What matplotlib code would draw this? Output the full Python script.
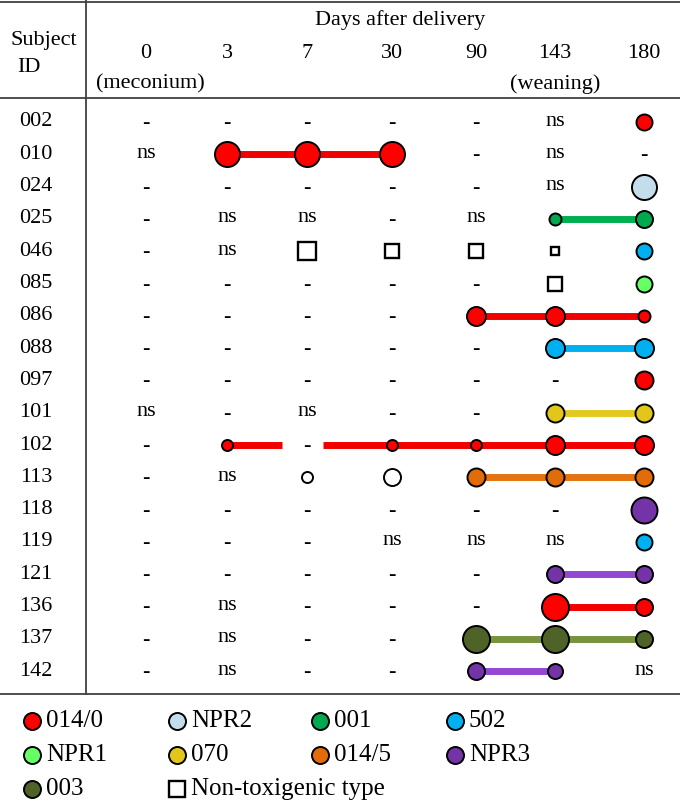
import matplotlib
matplotlib.use("Agg")
import matplotlib.pyplot as plt

# ---------------- data ----------------
days = ["0", "3", "7", "30", "90", "143", "180"]
day_notes = ["(meconium)", "", "", "", "", "(weaning)", ""]
subjects = ["002", "010", "024", "025", "046", "085", "086", "088", "097",
            "101", "102", "113", "118", "119", "121", "136", "137", "142"]

# cell content per subject and day: "-" none, "ns" no sample, else a type
cell_type = [
    ["-", "-", "-", "-", "-", "ns", "014/0"],
    ["ns", "014/0", "014/0", "014/0", "-", "ns", "-"],
    ["-", "-", "-", "-", "-", "ns", "NPR2"],
    ["-", "ns", "ns", "-", "ns", "001", "001"],
    ["-", "ns", "NT", "NT", "NT", "NT", "502"],
    ["-", "-", "-", "-", "-", "NT", "NPR1"],
    ["-", "-", "-", "-", "014/0", "014/0", "014/0"],
    ["-", "-", "-", "-", "-", "502", "502"],
    ["-", "-", "-", "-", "-", "-", "014/0"],
    ["ns", "-", "ns", "-", "-", "070", "070"],
    ["-", "014/0", "-", "014/0", "014/0", "014/0", "014/0"],
    ["-", "ns", "open", "open", "014/5", "014/5", "014/5"],
    ["-", "-", "-", "-", "-", "-", "NPR3"],
    ["-", "-", "-", "ns", "ns", "ns", "502"],
    ["-", "-", "-", "-", "-", "NPR3", "NPR3"],
    ["-", "ns", "-", "-", "-", "014/0", "014/0"],
    ["-", "ns", "-", "-", "003", "003", "003"],
    ["-", "ns", "-", "-", "NPR3", "NPR3", "ns"],
]
# marker diameter (px), 0 where no marker
cell_size = [
    [0, 0, 0, 0, 0, 0, 17],
    [0, 26, 26, 26, 0, 0, 0],
    [0, 0, 0, 0, 0, 0, 26],
    [0, 0, 0, 0, 0, 13, 18],
    [0, 0, 23, 17, 17, 11, 17],
    [0, 0, 0, 0, 0, 18, 17],
    [0, 0, 0, 0, 20, 20, 13],
    [0, 0, 0, 0, 0, 20, 20],
    [0, 0, 0, 0, 0, 0, 19],
    [0, 0, 0, 0, 0, 19, 19],
    [0, 12, 0, 12, 12, 20, 20],
    [0, 0, 12, 18, 19, 19, 19],
    [0, 0, 0, 0, 0, 0, 27],
    [0, 0, 0, 0, 0, 0, 17],
    [0, 0, 0, 0, 0, 18, 18],
    [0, 0, 0, 0, 0, 28, 18],
    [0, 0, 0, 0, 28, 28, 18],
    [0, 0, 0, 0, 18, 16, 0],
]
# persistence links: (subject, first day index, last day index)
links = [("010", 1, 3), ("025", 5, 6), ("086", 4, 6), ("088", 5, 6),
         ("101", 5, 6), ("102", 1, 6), ("113", 4, 6), ("121", 5, 6),
         ("136", 5, 6), ("137", 4, 6), ("142", 4, 5)]

legend_items = ["014/0", "NPR2", "001", "502", "NPR1", "070", "014/5", "NPR3",
                "003", "NT"]
legend_labels = ["014/0", "NPR2", "001", "502", "NPR1", "070", "014/5", "NPR3",
                 "003", "Non-toxigenic type"]

# ---------------- styles / layout ----------------
face = {"014/0": "#FF0000", "NPR2": "#C3DEEA", "001": "#00A84F",
        "502": "#00B0F0", "NPR1": "#66FF66", "070": "#E2C71A",
        "014/5": "#E36C0A", "NPR3": "#7434A8", "003": "#4F6228",
        "NT": "white", "open": "white"}
linec = {"014/0": "#F20000", "001": "#00B050", "502": "#00B0F0",
         "070": "#E3CA22", "014/5": "#E5730F", "NPR3": "#9447D2",
         "003": "#77933C"}

W, H = 680, 808
col_x = [146, 227, 307, 392, 476, 555, 644]
row_y0, row_dy = 122, 32.3
FONT = "Liberation Serif"
FS = 16
GRID = "#404040"

plt.rcParams["font.family"] = [FONT, "DejaVu Serif"]

fig = plt.figure(figsize=(W / 100, H / 100), dpi=100)
ax = fig.add_axes([0, 0, 1, 1])
ax.set_xlim(0, W)
ax.set_ylim(H, 0)
ax.axis("off")

def px2pt(d):
    return d * 72.0 / 100.0

def draw_marker(x, y, kind, d, z=3):
    mew = 1.4
    if kind == "NT":
        ax.plot(x, y, marker="s", ms=px2pt(d) * 0.9 - mew, mfc="white",
                mec="black", mew=mew + 0.3, ls="none", zorder=z)
    else:
        ax.plot(x, y, marker="o", ms=px2pt(d) - mew * 0.5, mfc=face[kind],
                mec="black", mew=mew, ls="none", zorder=z)

# frame lines
ax.plot([0, W], [2, 2], color=GRID, lw=1.3)
ax.plot([0, W], [98, 98], color=GRID, lw=1.3)
ax.plot([0, W], [694, 694], color=GRID, lw=1.3)
ax.plot([86, 86], [0, 694], color=GRID, lw=1.3)

# header
ax.text(11, 40, "Subject", fontsize=FS, ha="left", va="center")
ax.text(17, 68, "ID", fontsize=FS, ha="left", va="center")
ax.text(400, 20, "Days after delivery", fontsize=FS, ha="center", va="center")
for j, (d, note) in enumerate(zip(days, day_notes)):
    ax.text(col_x[j], 53, d, fontsize=FS, ha="center", va="center")
    if note:
        ax.text(col_x[j] + (4 if j == 0 else 0), 84, note, fontsize=FS,
                ha="center", va="center")

# links
for subj, a, b in links:
    i = subjects.index(subj)
    y = row_y0 + i * row_dy
    kind = cell_type[i][a]
    segs = []
    x_start = col_x[a]
    for j in range(a + 1, b + 1):
        if cell_type[i][j] == "-":
            segs.append((x_start, col_x[j] - 25))
            x_start = col_x[j] + 16
    segs.append((x_start, col_x[b]))
    for x0, x1 in segs:
        ax.plot([x0, x1], [y, y], color=linec[kind], lw=5.0,
                solid_capstyle="butt", zorder=2)

# rows
for i, subj in enumerate(subjects):
    y = row_y0 + i * row_dy
    ax.text(36, y, subj, fontsize=FS, ha="center", va="center")
    for j in range(len(days)):
        c = cell_type[i][j]
        if c == "-":
            ax.text(col_x[j], y + 1, "-", fontsize=FS, ha="center", va="center",
                    fontweight="bold")
        elif c == "ns":
            ax.text(col_x[j], y - 1, "ns", fontsize=FS, ha="center",
                    va="center")
        else:
            draw_marker(col_x[j], y, c, cell_size[i][j])

# legend
leg_x = [32, 177, 320, 455]
leg_y = [721, 755, 789]
for k, (kind, lab) in enumerate(zip(legend_items, legend_labels)):
    r, c = divmod(k, 4)
    x, y = leg_x[c], leg_y[r]
    draw_marker(x, y, kind, 18 if kind != "NT" else 20)
    ax.text(x + 14, y, lab, fontsize=FS + 2, ha="left", va="center")

fig.savefig("out.png", dpi=100)
